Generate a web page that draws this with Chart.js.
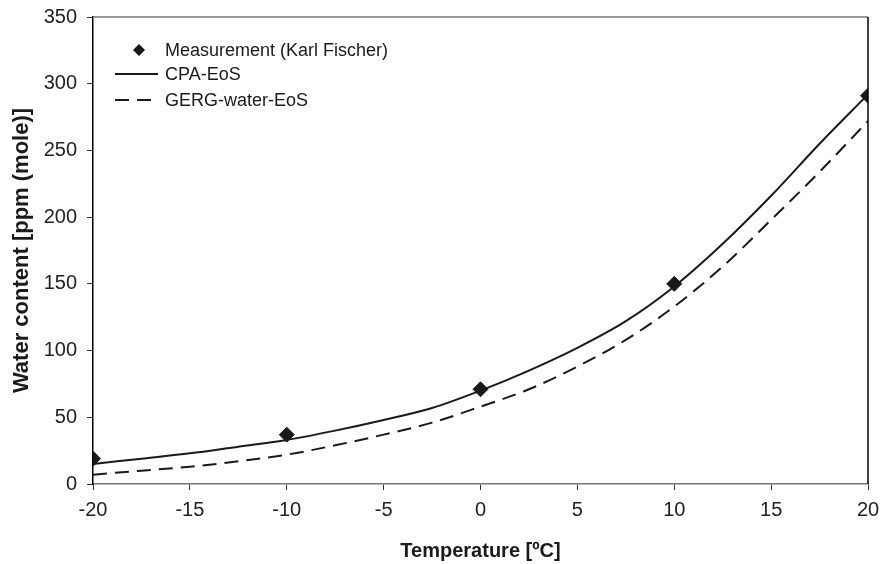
<!DOCTYPE html>
<html>
<head>
<meta charset="utf-8">
<title>Water content vs temperature</title>
<script src="https://cdn.jsdelivr.net/npm/chart.js@4/dist/chart.umd.min.js"></script>
<style>
  html, body { margin: 0; padding: 0; background: #fff; }
  #wrap { width: 882px; height: 564px; }
</style>
</head>
<body>
<div id="wrap"><canvas id="chart"></canvas></div>
<script>
// Karl Fischer measurements
const measTemp = [-20, -10, 0, 10, 20];
const measWater = [19, 37, 71, 150, 291];

// Model curves, sampled every 2.5 degC
const modelTemp = [-20, -17.5, -15, -12.5, -10, -7.5, -5, -2.5, 0, 2.5, 5, 7.5, 10, 12.5, 15, 17.5, 20];
const cpaWater = [15, 19, 23, 28, 33, 40, 48, 57, 70, 85, 102, 122, 148, 180, 216, 255, 292];
const gergWater = [7, 10, 13, 17, 22, 29, 37, 46, 58, 71, 88, 108, 133, 163, 198, 234, 272];

const seriesNames = ['Measurement (Karl Fischer)', 'CPA-EoS', 'GERG-water-EoS'];
const xTicks = [-20, -15, -10, -5, 0, 5, 10, 15, 20];
const yTicks = [0, 50, 100, 150, 200, 250, 300, 350];

const toPoints = (xs, ys) => xs.map((x, i) => ({ x: x, y: ys[i] }));

const FONT = "Arial, 'Liberation Sans', sans-serif";
const INK = '#1a1a1a';

// Box round the plot area and the legend in its top-left corner
const framePlugin = {
    id: 'frameAndLegend',
    afterDatasetsDraw: (chart) => {
        const { ctx, chartArea: { top, bottom, left, right } } = chart;
        ctx.save();
        ctx.strokeStyle = '#777';
        ctx.lineWidth = 1.5;
        ctx.beginPath();
        ctx.moveTo(left, top);
        ctx.lineTo(right, top);
        ctx.stroke();
        ctx.strokeStyle = '#000';
        ctx.beginPath();
        ctx.moveTo(right, top);
        ctx.lineTo(right, bottom);
        ctx.stroke();

        const ds = chart.data.datasets;
        const textX = left + 72;
        const rows = [top + 33, top + 57, top + 83];
        ctx.font = '18px ' + FONT;
        ctx.fillStyle = INK;
        ctx.textBaseline = 'middle';
        ds.forEach((d, i) => {
            const y = rows[i];
            if (d.showLine === false) {
                const r = 6;
                const cx = left + 46;
                ctx.beginPath();
                ctx.moveTo(cx, y - r);
                ctx.lineTo(cx + r, y);
                ctx.lineTo(cx, y + r);
                ctx.lineTo(cx - r, y);
                ctx.closePath();
                ctx.fill();
            } else {
                ctx.strokeStyle = d.borderColor;
                ctx.lineWidth = 2;
                ctx.setLineDash(d.borderDash || []);
                ctx.beginPath();
                ctx.moveTo(left + 22, y);
                ctx.lineTo(left + 65, y);
                ctx.stroke();
                ctx.setLineDash([]);
            }
            ctx.fillText(d.label, textX, y + 1);
        });
        ctx.restore();
    }
};

// Let the layout padding alone decide where the plot area sits
const fixPadding = (axis) => {
    axis.paddingTop = 0;
    axis.paddingBottom = 0;
    axis.paddingLeft = 0;
    axis.paddingRight = 0;
};

const config = {
    type: 'scatter',
    data: {
        datasets: [
            {
                label: seriesNames[0],
                data: toPoints(measTemp, measWater),
                showLine: false,
                pointStyle: 'rectRot',
                pointRadius: 7.5,
                pointBackgroundColor: INK,
                pointBorderColor: INK,
                pointBorderWidth: 1,
                order: 0
            },
            {
                label: seriesNames[1],
                data: toPoints(modelTemp, cpaWater),
                showLine: true,
                borderColor: INK,
                borderWidth: 2,
                pointRadius: 0,
                cubicInterpolationMode: 'monotone',
                order: 1
            },
            {
                label: seriesNames[2],
                data: toPoints(modelTemp, gergWater),
                showLine: true,
                borderColor: INK,
                borderWidth: 2,
                borderDash: [14, 8],
                pointRadius: 0,
                cubicInterpolationMode: 'monotone',
                order: 2
            }
        ]
    },
    options: {
        responsive: true,
        maintainAspectRatio: false,
        animation: false,
        layout: { padding: { left: 0, right: 14, top: 17, bottom: 0 } },
        scales: {
            x: {
                type: 'linear',
                min: xTicks[0],
                max: xTicks[xTicks.length - 1],
                afterBuildTicks: (axis) => { axis.ticks = xTicks.map(v => ({ value: v })); },
                afterFit: (axis) => { axis.height = 80; fixPadding(axis); },
                grid: { drawOnChartArea: false, drawTicks: true, tickLength: 6, color: '#333', lineWidth: 1 },
                border: { display: true, color: '#777', width: 1.5 },
                ticks: { color: '#222', padding: 8, font: { family: FONT, size: 20 } },
                title: {
                    display: true,
                    text: 'Temperature [ºC]',
                    color: INK,
                    padding: { top: 0, bottom: 1 },
                    font: { family: FONT, size: 20, weight: 'bold' }
                }
            },
            y: {
                type: 'linear',
                min: yTicks[0],
                max: yTicks[yTicks.length - 1],
                afterBuildTicks: (axis) => { axis.ticks = yTicks.map(v => ({ value: v })); },
                afterFit: (axis) => { axis.width = 93; fixPadding(axis); },
                grid: { drawOnChartArea: false, drawTicks: true, tickLength: 6, color: '#333', lineWidth: 1 },
                border: { display: true, color: '#000', width: 1.5 },
                ticks: { color: '#222', padding: 10, font: { family: FONT, size: 20 } },
                title: {
                    display: true,
                    text: 'Water content [ppm (mole)]',
                    color: INK,
                    padding: { top: 9, bottom: 0 },
                    font: { family: FONT, size: 22, weight: 'bold' }
                }
            }
        },
        plugins: {
            legend: { display: false },
            tooltip: { enabled: false }
        }
    },
    plugins: [framePlugin]
};

new Chart(document.getElementById('chart').getContext('2d'), config);
</script>
</body>
</html>
